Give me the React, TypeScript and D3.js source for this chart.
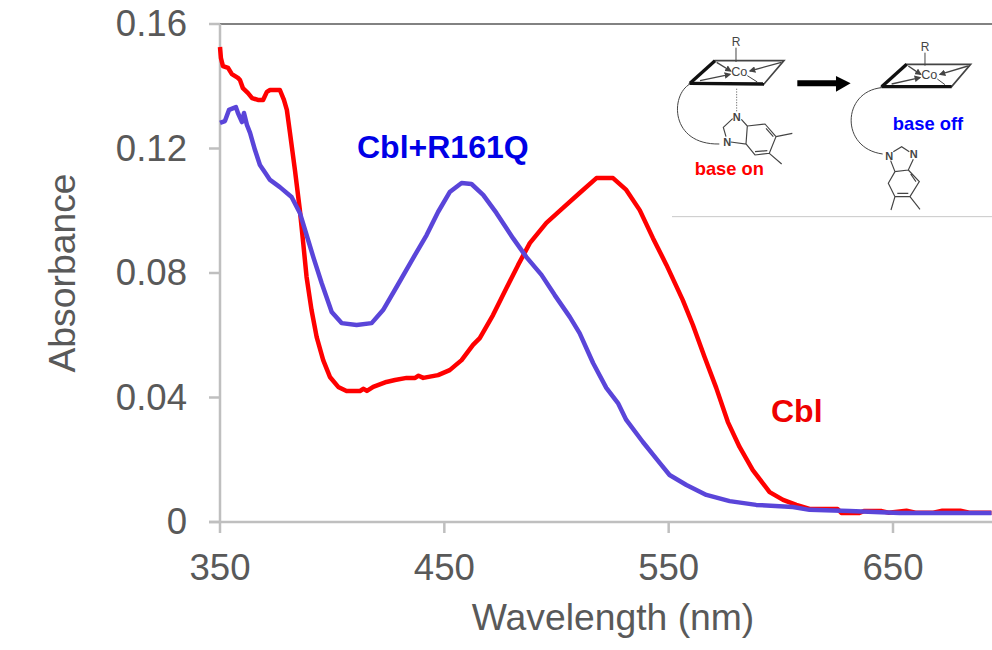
import React from "react";
import * as d3 from "d3";

const redWave = [350,350.4,351.3,353.6,355.3,358,358.9,360.2,362.5,364.3,366.9,369.2,370.9,372.3,376.7,378.5,379.8,381.2,383.4,385.6,387.1,388.6,390.8,393.1,396,399,402.7,406.4,412.4,414,415.5,418.3,424.2,428,433.2,437,438.5,440.6,447.2,452.4,457.7,462.8,465.8,471.7,477.7,482.9,488.1,495.5,502.9,510.3,517.8,522.8,525.2,531.1,537.1,543,549,556.3,560.8,566,571.2,576.4,581.6,587.5,595,601,606.9,612.8,625.3,627,635,637,645,648,656,660,668,672,680,684,693.9];
const redAbs = [.1526,.1491,.1465,.1459,.1439,.1427,.142,.1394,.1378,.1362,.1356,.1356,.1382,.1388,.1388,.1356,.1324,.125,.1131,.1002,.0896,.0787,.0681,.0594,.052,.0466,.0434,.0421,.0421,.0428,.0421,.0434,.045,.0456,.0463,.0463,.047,.0463,.0472,.0488,.052,.0569,.0591,.0665,.0752,.0826,.0896,.0961,.1009,.1057,.1105,.1105,.1105,.1067,.1002,.0912,.0826,.0713,.0633,.053,.0431,.0321,.0241,.0167,.0096,.0071,.0055,.0042,.0042,.0029,.0029,.0035,.0035,.003,.0036,.003,.003,.0036,.0036,.003,.003];
const blueWave = [350,352.2,354,357.1,358,359.8,360.7,362,363.4,365.6,367.8,370,372.3,376.7,381.9,385.6,388.6,391.6,395.3,399.8,404.2,410.9,417.6,422.7,428.7,436.1,442.1,447.2,452.4,457.7,462.1,467.3,473.2,480.6,486.6,493.3,499.2,505.9,510.3,516.3,522.2,527.4,531.1,538.5,546,550.4,557.9,566.8,577.2,589,605.4,612.8,630.6,652.9,693.9];
const blueAbs = [.1282,.1288,.1324,.1333,.1314,.1285,.1314,.1276,.125,.1195,.1147,.1124,.1099,.1076,.1044,.0993,.0922,.0851,.0768,.0675,.0639,.0633,.0639,.0681,.0755,.0848,.0922,.0996,.106,.1089,.1086,.1051,.0993,.0912,.0851,.0794,.0729,.0659,.0607,.0511,.0431,.0382,.0328,.0257,.019,.0151,.0119,.0087,.0067,.0055,.0048,.0039,.0035,.0029,.0029];
const xTicks = [350,450,550,650];
const yTicks = [0,.04,.08,.12,.16];

const FONT = "'Liberation Sans', Arial, sans-serif";
const GREY = "#595959";
const AXIS = "#bfbfbf";
const x = d3.scaleLinear().domain([350,650]).range([220,893]);
const y = d3.scaleLinear().domain([0,.16]).range([522,24]);
const path = (w: number[], a: number[]) =>
  d3.line<number>().x(d => x(d)).y((_, i) => y(a[i]))(w) as string;

const ink = "#444";
const Plane = ({ p, co, r }: { p: number[][]; co: number[]; r: number[] }) => (
  <g>
    <text x={r[0]} y={r[1]+12} fontSize={36} fontFamily={FONT} textAnchor="middle" fill={ink}>R</text>
    <line x1={r[0]} y1={r[1]+18} x2={r[0]} y2={p[0][1]+4} stroke={ink} strokeWidth={3}/>
    <polygon points={p.map(q => q.join(",")).join(" ")} fill="none" stroke={ink} strokeWidth={5}/>
    <line x1={p[3][0]} y1={p[3][1]} x2={p[2][0]} y2={p[2][1]} stroke="#111" strokeWidth={10}/>
    <line x1={p[3][0]} y1={p[3][1]} x2={p[0][0]} y2={p[0][1]} stroke="#111" strokeWidth={10}/>
    <text x={co[0]} y={co[1]+13} fontSize={38} fontFamily={FONT} textAnchor="middle" fill={ink}>Co</text>
    <line x1={p[0][0]+5} y1={p[0][1]+5} x2={co[0]-26} y2={co[1]-2} stroke={ink} strokeWidth={4} markerEnd="url(#head)"/>
    <line x1={p[3][0]+30} y1={p[3][1]-8} x2={co[0]-28} y2={co[1]+8} stroke={ink} strokeWidth={4} markerEnd="url(#head)"/>
    <line x1={p[1][0]-8} y1={p[1][1]+5} x2={co[0]+32} y2={co[1]-2} stroke={ink} strokeWidth={4} markerEnd="url(#head)"/>
    <line x1={co[0]+24} y1={co[1]+12} x2={p[2][0]-20} y2={p[2][1]-6} stroke={ink} strokeWidth={3}/>
  </g>
);
const Atom = ({ a, b }: { a: number; b: number }) => (
  <text x={a} y={b+12} fontSize={33} fontWeight={700} fontFamily={FONT} textAnchor="middle" fill={ink}>N</text>
);

const Inset = () => (
  <g transform="translate(660,20) scale(0.3333)">
    <defs>
      <marker id="head" markerWidth="5" markerHeight="5" refX="4" refY="2.5" orient="auto">
        <path d="M0,0 L5,2.5 L0,5 Z" fill={ink}/>
      </marker>
    </defs>
    <Plane p={[[165,122],[372,122],[312,192],[90,190]]} co={[238,155]} r={[228,65]}/>
    <path d="M90,192 C30,225 30,375 178,372" fill="none" stroke={ink} strokeWidth={3}/>
    <line x1={230} y1={206} x2={230} y2={274} stroke="#777" strokeWidth={3} strokeDasharray="4 4"/>
    <path d="M218,296 L190,322 L198,350 M212,366 L258,372 L262,318 L244,298 M262,318 L315,312 L348,350 L328,400 L285,405 L258,372 M348,350 L397,340 M328,400 L365,432 M285,395 L322,392 M318,325 L340,350" fill="none" stroke={ink} strokeWidth={3.5}/>
    <Atom a={230} b={292}/><Atom a={202} b={365}/>
    <text x={208} y={465} fontSize={55} fontWeight={700} fontFamily={FONT} textAnchor="middle" fill="#ff0000">base on</text>

    <path d="M412,181 H528 V168 L572,190 L528,215 V199 H412 Z" fill="#000"/>

    <Plane p={[[740,133],[932,133],[875,200],[665,200]]} co={[808,165]} r={[795,80]}/>
    <path d="M665,203 C545,215 540,385 668,402" fill="none" stroke={ink} strokeWidth={3}/>
    <path d="M700,395 L725,380 L748,395 M760,418 L745,450 L705,455 L692,422 M705,455 L685,490 L705,530 L750,530 L778,485 L745,450 M705,530 L693,570 M750,530 L780,568 M712,520 L745,520 M752,462 L768,485" fill="none" stroke={ink} strokeWidth={3.5}/>
    <Atom a={688} b={407}/><Atom a={761} b={403}/>
    <text x={804} y={329} fontSize={55} fontWeight={700} fontFamily={FONT} textAnchor="middle" fill="#0000ff">base off</text>

    <line x1={36} y1={590} x2={996} y2={590} stroke="#c8c8c8" strokeWidth={3}/>
  </g>
);

export default function App() {
  return (
    <svg width={992} height={650} style={{ position: "absolute", left: 0, top: 0, display: "block", background: "#fff" }}>
      <line x1={220} y1={24} x2={992} y2={24} stroke={GREY} strokeWidth={1.5}/>
      <line x1={220} y1={24} x2={220} y2={522} stroke={AXIS} strokeWidth={2.5}/>
      <line x1={209} y1={522} x2={992} y2={522} stroke={AXIS} strokeWidth={2.5}/>
      {yTicks.map(t => (
        <g key={t}>
          <line x1={209} x2={220} y1={y(t)} y2={y(t)} stroke={AXIS} strokeWidth={2.5}/>
          <text x={187} y={y(t)+12} textAnchor="end" fontSize={36.6} fontFamily={FONT} fill={GREY}>{t === 0 ? "0" : t.toFixed(2)}</text>
        </g>
      ))}
      {xTicks.map(t => (
        <g key={t}>
          <line x1={x(t)} x2={x(t)} y1={522} y2={533} stroke={AXIS} strokeWidth={2.5}/>
          <text x={x(t)} y={580} textAnchor="middle" fontSize={36.6} fontFamily={FONT} fill={GREY}>{t}</text>
        </g>
      ))}
      <text x={613} y={630} textAnchor="middle" fontSize={37.3} fontFamily={FONT} fill={GREY}>Wavelength (nm)</text>
      <text transform="translate(75,273) rotate(-90)" textAnchor="middle" fontSize={37.3} fontFamily={FONT} fill={GREY}>Absorbance</text>
      <Inset/>
      <path d={path(redWave, redAbs)} fill="none" stroke="#ff0000" strokeWidth={4.5} strokeLinejoin="round"/>
      <path d={path(blueWave, blueAbs)} fill="none" stroke="#5a45d9" strokeWidth={4.5} strokeLinejoin="round"/>
      <text x={357} y={158} fontSize={32} fontWeight={700} fontFamily={FONT} fill="#0000e6">Cbl+R161Q</text>
      <text x={771} y={422} fontSize={32} fontWeight={700} fontFamily={FONT} fill="#ee0000">Cbl</text>
    </svg>
  );
}
